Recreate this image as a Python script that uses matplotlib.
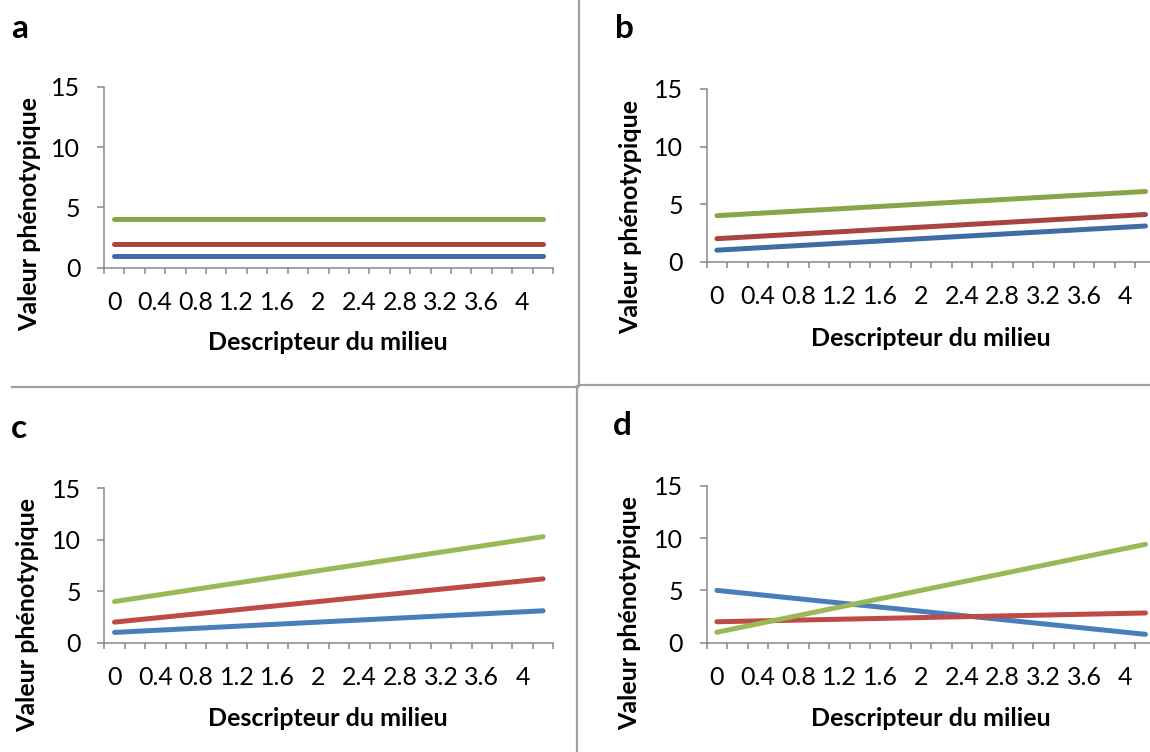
import matplotlib
matplotlib.use('Agg')
import matplotlib.pyplot as plt
from matplotlib.lines import Line2D
from matplotlib.ticker import FixedLocator, NullFormatter, FixedFormatter

plt.rcParams['font.family'] = ['Lato', 'DejaVu Sans']

# categories of the environment descriptor
x_labels = ['0', '0.2', '0.4', '0.6', '0.8', '1', '1.2', '1.4', '1.6', '1.8', '2',
            '2.2', '2.4', '2.6', '2.8', '3', '3.2', '3.4', '3.6', '3.8', '4', '4.2']

# panel a
a_blue = [1, 1, 1, 1, 1, 1, 1, 1, 1, 1, 1, 1, 1, 1, 1, 1, 1, 1, 1, 1, 1, 1]
a_red = [2, 2, 2, 2, 2, 2, 2, 2, 2, 2, 2, 2, 2, 2, 2, 2, 2, 2, 2, 2, 2, 2]
a_green = [4, 4, 4, 4, 4, 4, 4, 4, 4, 4, 4, 4, 4, 4, 4, 4, 4, 4, 4, 4, 4, 4]

# panel b
b_blue = [1.0, 1.1, 1.2, 1.3, 1.4, 1.5, 1.6, 1.7, 1.8, 1.9, 2.0,
          2.1, 2.2, 2.3, 2.4, 2.5, 2.6, 2.7, 2.8, 2.9, 3.0, 3.1]
b_red = [2.0, 2.1, 2.2, 2.3, 2.4, 2.5, 2.6, 2.7, 2.8, 2.9, 3.0,
         3.1, 3.2, 3.3, 3.4, 3.5, 3.6, 3.7, 3.8, 3.9, 4.0, 4.1]
b_green = [4.0, 4.1, 4.2, 4.3, 4.4, 4.5, 4.6, 4.7, 4.8, 4.9, 5.0,
           5.1, 5.2, 5.3, 5.4, 5.5, 5.6, 5.7, 5.8, 5.9, 6.0, 6.1]

# panel c
c_blue = [1.0, 1.1, 1.2, 1.3, 1.4, 1.5, 1.6, 1.7, 1.8, 1.9, 2.0,
          2.1, 2.2, 2.3, 2.4, 2.5, 2.6, 2.7, 2.8, 2.9, 3.0, 3.1]
c_red = [2.0, 2.2, 2.4, 2.6, 2.8, 3.0, 3.2, 3.4, 3.6, 3.8, 4.0,
         4.2, 4.4, 4.6, 4.8, 5.0, 5.2, 5.4, 5.6, 5.8, 6.0, 6.2]
c_green = [4.0, 4.3, 4.6, 4.9, 5.2, 5.5, 5.8, 6.1, 6.4, 6.7, 7.0,
           7.3, 7.6, 7.9, 8.2, 8.5, 8.8, 9.1, 9.4, 9.7, 10.0, 10.3]

# panel d
d_blue = [5.0, 4.8, 4.6, 4.4, 4.2, 4.0, 3.8, 3.6, 3.4, 3.2, 3.0,
          2.8, 2.6, 2.4, 2.2, 2.0, 1.8, 1.6, 1.4, 1.2, 1.0, 0.8]
d_red = [2.0, 2.04, 2.08, 2.12, 2.16, 2.2, 2.24, 2.28, 2.32, 2.36, 2.4,
         2.44, 2.48, 2.52, 2.56, 2.6, 2.64, 2.68, 2.72, 2.76, 2.8, 2.84]
d_green = [1.0, 1.4, 1.8, 2.2, 2.6, 3.0, 3.4, 3.8, 4.2, 4.6, 5.0,
           5.4, 5.8, 6.2, 6.6, 7.0, 7.4, 7.8, 8.2, 8.6, 9.0, 9.4]

y_ticks = [0, 5, 10, 15]

W, H = 1150, 752
dark = ['#3F6DA8', '#A94441', '#87A64A']
bright = ['#4A7EBB', '#BE4B48', '#98B954']
grey = '#878787'

fig = plt.figure(figsize=(W / 100, H / 100), dpi=100)


def px_axes(left, top, right, bottom):
    return fig.add_axes([left / W, 1 - bottom / H, (right - left) / W, (bottom - top) / H])


def draw_panel(box, series, colors, letter, letter_xy, ylab_xy, xlab_xy):
    ax = px_axes(*box)
    n = len(x_labels)
    idx = list(range(n))
    for vals, col in zip(series, colors):
        ax.plot(idx, vals, color=col, lw=3.6, solid_capstyle='round')
    ax.set_xlim(-0.5, n - 0.5)
    ax.set_ylim(0, 15)
    ax.set_yticks(y_ticks)
    ax.set_yticklabels([str(t) for t in y_ticks], fontsize=18)
    # ticks between categories, labels on every other category
    ax.xaxis.set_major_locator(FixedLocator([i - 0.5 for i in range(n + 1)]))
    ax.xaxis.set_major_formatter(NullFormatter())
    ax.xaxis.set_minor_locator(FixedLocator(idx[::2]))
    ax.xaxis.set_minor_formatter(FixedFormatter(x_labels[::2]))
    ax.tick_params(axis='x', which='major', direction='out', length=4.5, width=1.1, color=grey)
    ax.tick_params(axis='x', which='minor', length=0, pad=17, labelsize=18)
    ax.tick_params(axis='y', direction='out', length=5, width=1.1, color=grey, pad=12)
    for s in ['top', 'right']:
        ax.spines[s].set_visible(False)
    for s in ['left', 'bottom']:
        ax.spines[s].set_color(grey)
        ax.spines[s].set_linewidth(1.1)
    ax.patch.set_alpha(0)

    fig.text(letter_xy[0] / W, 1 - letter_xy[1] / H, letter, fontsize=24,
             fontweight='bold', ha='left', va='baseline')
    fig.text(ylab_xy[0] / W, 1 - ylab_xy[1] / H, 'Valeur phénotypique', fontsize=18,
             fontweight='bold', rotation=90, ha='center', va='center')
    fig.text(xlab_xy[0] / W, 1 - xlab_xy[1] / H, 'Descripteur du milieu', fontsize=18,
             fontweight='bold', ha='center', va='center')
    return ax


draw_panel((104, 86.7, 553, 267.7), [a_blue, a_red, a_green], dark,
           'a', (11, 38), (30, 214), (328, 343))
draw_panel((706.7, 89, 1155.7, 261.7), [b_blue, b_red, b_green], dark,
           'b', (615, 38), (631, 217), (931, 338))
draw_panel((104.3, 488.3, 553.3, 642.7), [c_blue, c_red, c_green], bright,
           'c', (11, 438), (28, 615), (328, 718))
draw_panel((706.7, 485.7, 1155.7, 642.7), [d_blue, d_red, d_green], bright,
           'd', (613, 435), (630, 613), (931, 718))

# separators between the panels
sep = dict(color='#A0A0A0', lw=1.6, transform=fig.transFigure)
fig.add_artist(Line2D([579.3 / W, 579.3 / W], [1, 1 - 386 / H], **sep))
fig.add_artist(Line2D([0.01, 578 / W], [1 - 386.7 / H, 1 - 386.7 / H], **sep))
fig.add_artist(Line2D([579.3 / W, 1], [1 - 384.7 / H, 1 - 384.7 / H], **sep))
fig.add_artist(Line2D([576.7 / W, 576.7 / W], [1 - 386 / H, 0], **sep))

fig.savefig('out.png', dpi=100)
